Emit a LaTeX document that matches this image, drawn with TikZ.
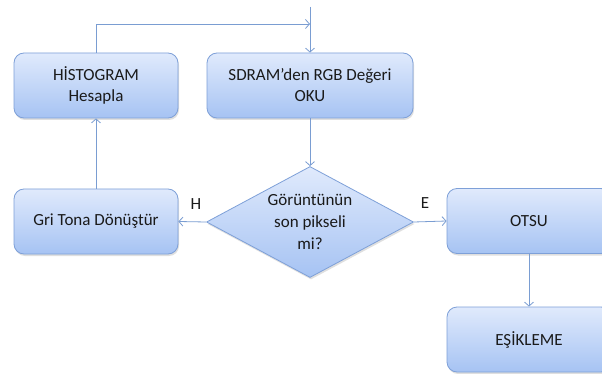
\documentclass[tikz,border=0pt]{standalone}
\usepackage{fontspec}
\setmainfont{Carlito}
\usetikzlibrary{shapes.geometric,arrows.meta,shadows}
\definecolor{boxtop}{HTML}{E0EAFC}
\definecolor{boxbot}{HTML}{A6C3F3}
\definecolor{boxline}{HTML}{7EA0D8}
\definecolor{conn}{HTML}{7A9DD2}
\definecolor{txt}{HTML}{1A1A1A}
\tikzset{
  flowbox/.style={draw=boxline, line width=0.8pt, rounded corners=10pt,
    top color=boxtop, bottom color=boxbot, minimum height=65pt,
    minimum width=164pt, align=center, text=txt, inner sep=0pt,
    font=\fontsize{17}{21}\selectfont,
    drop shadow={shadow xshift=1pt, shadow yshift=-2pt, opacity=0.25}},
  decision/.style={draw=boxline, line width=0.8pt, diamond, shape aspect=1.865,
    top color=boxtop, bottom color=boxbot, minimum width=207pt,
    minimum height=111pt, inner sep=0pt, align=center, text=txt,
    font=\fontsize{17}{22}\selectfont,
    drop shadow={shadow xshift=1pt, shadow yshift=-2pt, opacity=0.25}},
  conn/.style={draw=conn, line width=0.8pt,
    -{Straight Barb[length=4pt,width=9pt]}},
  lbl/.style={text=txt, font=\fontsize{17}{21}\selectfont, inner sep=0pt}
}
\begin{document}
\begin{tikzpicture}[x=1pt,y=-1pt]
\clip (0,0) rectangle (602,374);
\fill[white] (0,0) rectangle (602,374);
\node[flowbox] (hist) at (96,85.5) {HİSTOGRAM\\Hesapla};
\node[flowbox, minimum width=206pt] (sdram) at (310,85.5) {SDRAM’den RGB Değeri\\OKU};
\node[flowbox] (gri) at (96,221.5) {Gri Tona Dönüştür};
\node[decision] (dia) at (310,222) {Görüntünün\\son pikseli\\mi?};
\node[flowbox] (otsu) at (529,221) {OTSU};
\node[flowbox] (esik) at (529,339.5) {EŞİKLEME};
\coordinate (start) at (310,7);
\coordinate (join) at (310,24);
\draw[conn] (hist.north) |- (join);
\draw[conn] (start) -- (sdram.north);
\draw[conn] (sdram.south) -- (dia.north);
\draw[conn] (dia.west) -- (gri.east);
\draw[conn] (gri.north) -- (hist.south);
\draw[conn] (dia.east) -- (otsu.west);
\draw[conn] (otsu.south) -- (esik.north);
\node[lbl] (h) at (196,204) {H};
\node[lbl] (e) at (425,203) {E};
\end{tikzpicture}
\end{document}
